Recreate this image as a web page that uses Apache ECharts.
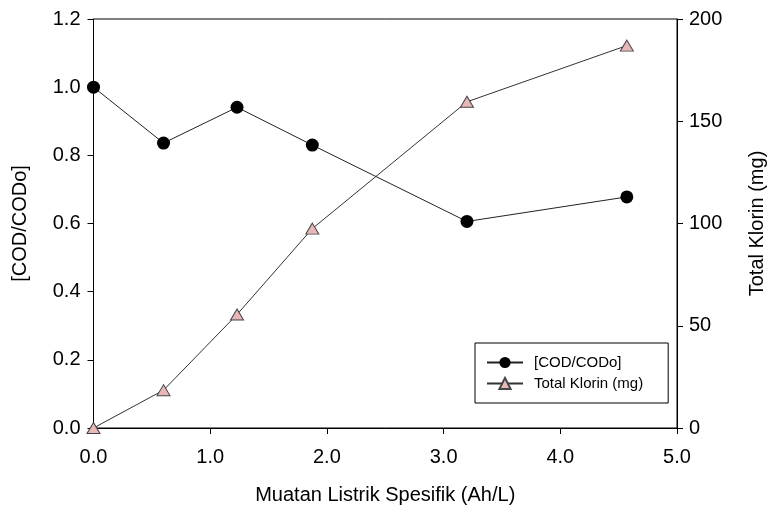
<!DOCTYPE html>
<html>
<head>
<meta charset="utf-8">
<script src="https://cdn.jsdelivr.net/npm/echarts@6/dist/echarts.min.js"></script>
<style>
html,body{margin:0;padding:0;background:#fff;}
#chart{width:775px;height:512px;}
</style>
</head>
<body>
<div id="chart"></div>
<script>
var xCharge = [0.0, 0.60, 1.23, 1.875, 3.20, 4.57];
var codRatio = [1.0, 0.836, 0.941, 0.830, 0.606, 0.678];
var klorin = [0, 18.5, 55.5, 97.5, 159.5, 187];

var FONT = 'Liberation Sans, Arial, sans-serif';

function pairs(xs, ys) {
  return xs.map(function (x, i) { return [x, ys[i]]; });
}

var chart = echarts.init(document.getElementById('chart'), null, {renderer: 'canvas'});
chart.setOption({
  animation: false,
  backgroundColor: '#ffffff',
  grid: {
    left: 93.5, right: 98, top: 19, bottom: 84,
    show: true, borderColor: '#000', borderWidth: 1, backgroundColor: 'transparent'
  },
  legend: {
    orient: 'vertical',
    left: 475, top: 343,
    padding: [12, 25, 12, 11],
    itemGap: 6,
    itemWidth: 36,
    itemHeight: 14,
    borderColor: '#000',
    borderWidth: 1,
    backgroundColor: '#fff',
    textStyle: {fontFamily: FONT, fontSize: 15, color: '#000', padding: [0, 0, 0, 6]},
    data: ['[COD/CODo]', 'Total Klorin (mg)']
  },
  xAxis: {
    type: 'value', min: 0, max: 5, interval: 1,
    name: 'Muatan Listrik Spesifik (Ah/L)',
    nameLocation: 'middle', nameGap: 57,
    nameTextStyle: {fontFamily: FONT, fontSize: 20, color: '#000'},
    axisLine: {show: true, onZero: false, lineStyle: {color: '#000', width: 1}},
    axisTick: {show: true, inside: false, length: 6, lineStyle: {color: '#000'}},
    axisLabel: {fontFamily: FONT, fontSize: 20, color: '#000', margin: 19,
      formatter: function (v) { return v.toFixed(1); }},
    splitLine: {show: false}
  },
  yAxis: [{
    type: 'value', min: 0, max: 1.2, interval: 0.2,
    name: '[COD/CODo]', nameLocation: 'middle', nameGap: 63, nameRotate: 90,
    nameTextStyle: {fontFamily: FONT, fontSize: 20, color: '#000'},
    axisLine: {show: true, lineStyle: {color: '#000', width: 1}},
    axisTick: {show: true, inside: false, length: 6, lineStyle: {color: '#000'}},
    axisLabel: {fontFamily: FONT, fontSize: 20, color: '#000', margin: 13,
      formatter: function (v) { return v.toFixed(1); }},
    splitLine: {show: false}
  }, {
    type: 'value', min: 0, max: 200, interval: 50, position: 'right',
    name: 'Total Klorin (mg)', nameLocation: 'middle', nameGap: 70, nameRotate: 90,
    nameTextStyle: {fontFamily: FONT, fontSize: 20, color: '#000'},
    axisLine: {show: true, lineStyle: {color: '#000', width: 1}},
    axisTick: {show: true, inside: false, length: 6, lineStyle: {color: '#000'}},
    axisLabel: {fontFamily: FONT, fontSize: 20, color: '#000', margin: 12},
    splitLine: {show: false}
  }],
  series: [{
    name: '[COD/CODo]', type: 'line', yAxisIndex: 0,
    data: pairs(xCharge, codRatio),
    symbol: 'circle', symbolSize: 13,
    itemStyle: {color: '#000', borderColor: '#000', borderWidth: 0},
    lineStyle: {color: '#222', width: 1}
  }, {
    name: 'Total Klorin (mg)', type: 'line', yAxisIndex: 1,
    data: pairs(xCharge, klorin),
    symbol: 'triangle', symbolSize: [13, 11],
    itemStyle: {color: '#e8b7b7', borderColor: '#444', borderWidth: 1},
    lineStyle: {color: '#333', width: 1}
  }]
});
</script>
</body>
</html>
